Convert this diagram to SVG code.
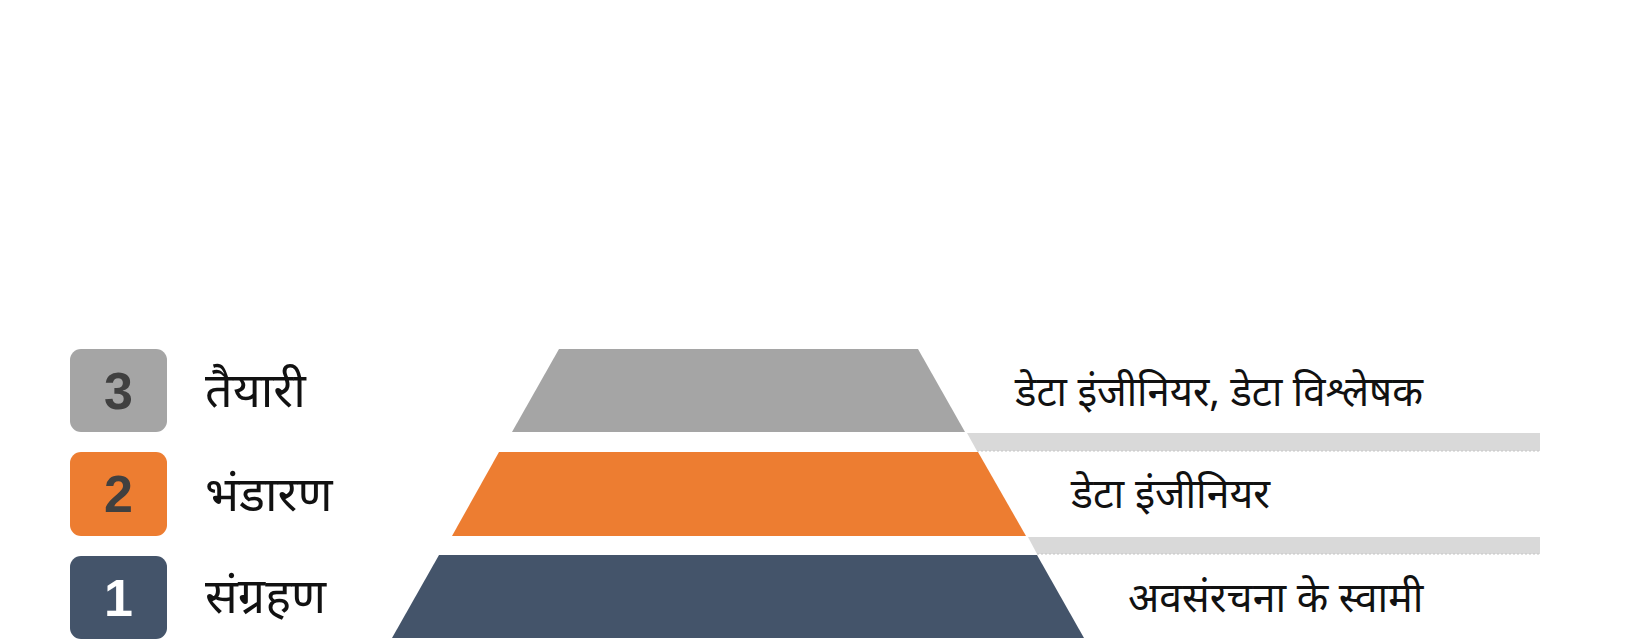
<svg xmlns="http://www.w3.org/2000/svg" width="1626" height="640" viewBox="0 0 1626 640">
<style>
.num{font-family:"Liberation Sans Narrow","Liberation Sans","Open Sans",sans-serif;font-weight:bold;font-size:52px;text-anchor:middle}
.lbl{font-family:"Noto Sans","Noto Sans Devanagari","Lohit Devanagari",sans-serif;font-size:48.5px;fill:#111}
.rt{font-family:"Noto Sans","Noto Sans Devanagari","Lohit Devanagari",sans-serif;font-size:41px;fill:#111}
.band{fill:#d9d9d9}
.dots{stroke:#c4c4c4;stroke-width:1;stroke-dasharray:2 2;fill:none}
</style>
<rect width="1626" height="640" fill="#ffffff"/>
<g id="legend-3">
<rect x="70" y="349" width="97" height="83" rx="11" fill="#a5a5a5"/>
<text class="num" x="118.5" y="409" fill="#404040">3</text>
<text class="lbl" x="205" y="407">तैयारी</text>
</g>
<g id="legend-2">
<rect x="70" y="452" width="97" height="84" rx="11" fill="#ed7d31"/>
<text class="num" x="118.5" y="512" fill="#404040">2</text>
<text class="lbl" x="205" y="511">भंडारण</text>
</g>
<g id="legend-1">
<rect x="70" y="556" width="97" height="83" rx="11" fill="#44546a"/>
<text class="num" x="118.5" y="616" fill="#ffffff">1</text>
<text class="lbl" x="205" y="613">संग्रहण</text>
</g>
<g id="bands">
<polygon class="band" points="967,433 1540,433 1540,451 977,451"/>
<line class="dots" x1="977" y1="451" x2="1540" y2="451"/>
<polygon class="band" points="1028,537 1540,537 1540,554 1037,554"/>
<line class="dots" x1="1037" y1="554" x2="1540" y2="554"/>
</g>
<g id="tier-3">
<polygon points="559,349 918,349 965,432 512,432" fill="#a5a5a5"/>
<text class="rt" x="1015" y="406" textLength="408" lengthAdjust="spacingAndGlyphs">डेटा इंजीनियर, डेटा विश्लेषक</text>
</g>
<g id="tier-2">
<polygon points="499,452 978,452 1026,536 452,536" fill="#ed7d31"/>
<text class="rt" x="1071" y="508">डेटा इंजीनियर</text>
</g>
<g id="tier-1">
<polygon points="439,555 1037,555 1084,638 392,638" fill="#44546a"/>
<text class="rt" x="1128" y="612">अवसंरचना के स्वामी</text>
</g>
</svg>
